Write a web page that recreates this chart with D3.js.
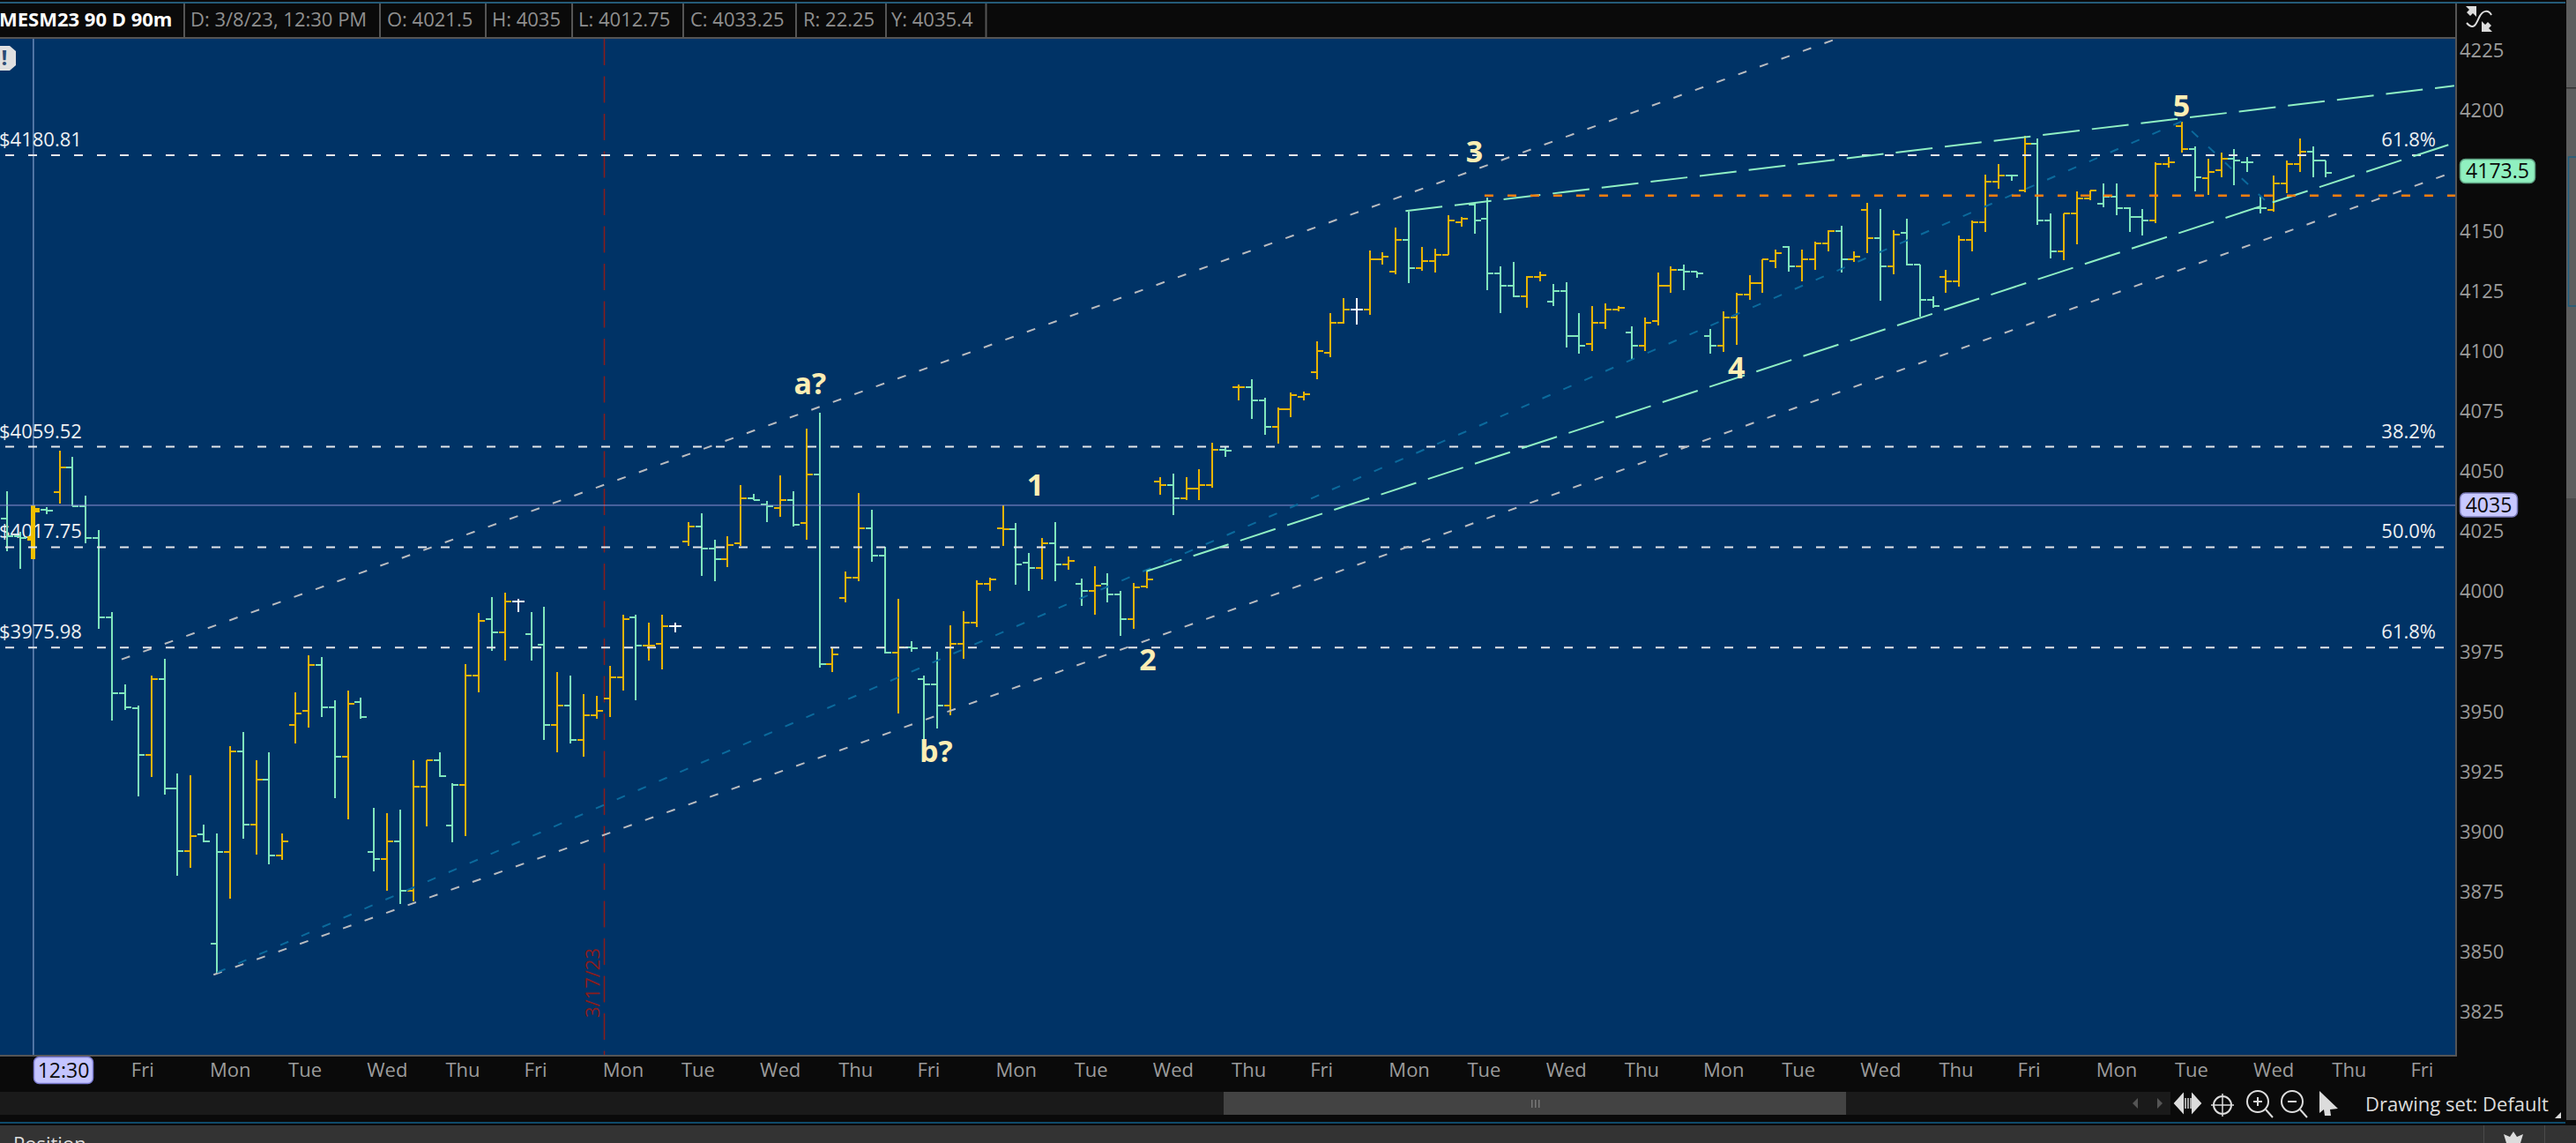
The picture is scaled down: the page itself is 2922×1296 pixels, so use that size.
<!DOCTYPE html>
<html>
<head>
<meta charset="utf-8">
<title>MESM23 90 D 90m</title>
<script src="https://cdn.jsdelivr.net/npm/d3@7"></script>
<style>
  html, body { margin: 0; padding: 0; background: #0a0a0a; overflow: hidden; }
  svg { display: block; font-family: "Open Sans", sans-serif; }
</style>
</head>
<body>
<div id="chart-area"></div>
<script>
// OHLC values, one per 90 minute bar
const opens = [
  4029.5, 4022.25, 4021.5, 4033.25, 4040.5, 4051, 4034.75, 4021.5, 3988.5, 3957,
  3950.75, 3931.25, 3963, 3917.25, 3891.5, 3898.25, 3852.75, 3891, 3932.75, 3902.5,
  3921, 3889.5, 3943.75, 3949.75, 3968.75, 3951, 3930.5, 3953.25, 3891, 3888,
  3895.25, 3874.75, 3918, 3929, 3902, 3918.75, 3964.25, 3987.75, 3982.5, 3995,
  3981.75, 3977.25, 3943.75, 3951.75, 3937.75, 3948, 3954.75, 3963.5, 3988.5, 3976.75,
  3977.5, 3984.75, 4020, 4026.5, 4017, 4012.75, 4019.25, 4038.25, 4035.5, 4034,
  4037.5, 4028, 4048, 3969.25, 3996.5, 4005.25, 4025.75, 4014.25, 3973.75, 3976,
  3963, 3960.5, 3951.75, 3977.5, 3986.25, 4002.5, 4025.5, 4025.25, 4011.25, 4009,
  4019.25, 4010.5, 4002.5, 3999.5, 4002.5, 3998, 3987.75, 4001.5, 4045, 4043.5,
  4038.25, 4042, 4043.5, 4058.25, 4084.5, 4084.5, 4078.75, 4067.75, 4075, 4080.25,
  4090.5, 4098.5, 4111, 4116.75, 4116.75, 4137.5, 4132.25, 4145.5, 4133.75, 4136.75,
  4139.5, 4152.75, 4160.25, 4154.25, 4131.5, 4126.5, 4122, 4130, 4119.75, 4124.25,
  4105.75, 4102.25, 4111, 4116.75, 4107.25, 4101.5, 4111.75, 4126.5, 4133, 4132.25,
  4105.75, 4101.5, 4113.25, 4122.75, 4127.75, 4136.75, 4142.5, 4134.5, 4137.5, 4144.25,
  4149.25, 4137.5, 4158, 4146.25, 4134.5, 4148.5, 4135.25, 4120.5, 4130, 4128.5,
  4145.5, 4152.75, 4169.75, 4172.5, 4166, 4185.5, 4153.5, 4141, 4156.5, 4163,
  4160.75, 4163.75, 4158.75, 4155, 4153.5, 4177, 4192.75, 4183.5, 4171.25, 4174.75,
  4179.25, 4177.75, 4158.75, 4158, 4169, 4177, 4182.25, 4178.75
];
const highs = [
  4041, 4024, 4035, 4034.25, 4057.75, 4055.5, 4039.25, 4024.75, 3990.75, 3960.75,
  3952, 3964.25, 3971.25, 3923.5, 3922.75, 3902.25, 3898.5, 3935, 3941, 3929.25,
  3932.25, 3898.5, 3957.25, 3972.75, 3972, 3954.25, 3958, 3955, 3909.5, 3907.25,
  3908.75, 3929.25, 3929, 3932.25, 3919.75, 3969, 3990.25, 3997, 3999, 3996.25,
  3990.75, 3993, 3966, 3964.5, 3956.5, 3956, 3968.25, 3989.5, 3989.5, 3986.5,
  3989.5, 3986.5, 4028.25, 4032, 4021, 4022.5, 4043.5, 4040, 4037, 4047.5,
  4041, 4067.25, 4073.75, 3976.25, 4007.75, 4040.25, 4033.5, 4018, 3996.25, 3978.5,
  3964.5, 3974.25, 3985.25, 3991, 4004, 4005.25, 4035, 4027.75, 4015.25, 4021.75,
  4028.25, 4013.75, 4004.75, 4010, 4007, 3999.5, 4002.75, 4007.75, 4046.75, 4048.25,
  4046.75, 4050.25, 4061.25, 4059.5, 4085.5, 4087.75, 4079.75, 4075.75, 4082, 4082.5,
  4103.25, 4115, 4121.5, 4121.5, 4141.25, 4140.5, 4150.75, 4157.25, 4142.75, 4142,
  4155.75, 4155.25, 4161, 4163.25, 4134.75, 4136.25, 4130.5, 4132.5, 4127.25, 4128,
  4115, 4118, 4119.25, 4118, 4109.75, 4113.25, 4132, 4134.75, 4135.5, 4132.5,
  4108.5, 4115.75, 4123.75, 4131, 4137.5, 4141.5, 4143, 4141.5, 4144.75, 4149.5,
  4151.5, 4140.75, 4161, 4158.25, 4149.5, 4154.5, 4135.5, 4122.25, 4133.25, 4147.25,
  4153.75, 4172.75, 4177.25, 4172.75, 4189, 4187.75, 4156.75, 4156.75, 4165.75, 4166.25,
  4169.25, 4169.25, 4159, 4158.25, 4177.75, 4180.25, 4194.75, 4184.5, 4179.25, 4181.75,
  4183.25, 4180, 4163.5, 4172.25, 4178.75, 4187.75, 4184.5, 4178.75
];
const lows = [
  4016, 4008.75, 4012.75, 4031.5, 4036, 4034.75, 4019.25, 3983.75, 3945.5, 3950,
  3914, 3922.25, 3914.75, 3881, 3884.5, 3895, 3840.25, 3871.5, 3896.5, 3889.75,
  3886, 3887.5, 3936, 3942.75, 3947, 3913.25, 3904.5, 3946.25, 3883, 3875,
  3869.25, 3870.5, 3901.5, 3922.25, 3895, 3897.75, 3957.25, 3974.75, 3970.5, 3990.75,
  3970.5, 3937.5, 3932.25, 3936, 3930.75, 3946.25, 3947, 3958, 3954.25, 3970.5,
  3966.75, 3982.25, 4018.25, 4005.75, 4003.5, 4009.5, 4018.25, 4037.25, 4028.25, 4030.5,
  4026.25, 4021, 3967.5, 3966, 3994.75, 4003.5, 4011.5, 3973.5, 3948.5, 3974.25,
  3937.5, 3942.5, 3947.75, 3971.25, 3984.5, 3999.75, 4018.25, 4002, 3999.75, 4004.25,
  4003.5, 4008.25, 3993.25, 3989.5, 3994.75, 3980.75, 3983.75, 4000.5, 4039.5, 4031.25,
  4037.25, 4037.25, 4042.5, 4055.5, 4079, 4071, 4064.5, 4060.75, 4071.75, 4079,
  4087.75, 4096.75, 4110.75, 4110.5, 4114.25, 4135.5, 4131.25, 4127.5, 4132.75, 4132,
  4139.25, 4151, 4148, 4124.5, 4115.25, 4121.75, 4117.25, 4128.25, 4118, 4101,
  4098.25, 4099.5, 4108.5, 4115.75, 4096, 4099.5, 4110, 4123.75, 4124.5, 4129.75,
  4098.25, 4099, 4101.75, 4120.5, 4123.75, 4134, 4132.5, 4128.25, 4133.25, 4140.75,
  4132, 4136.5, 4140, 4120.25, 4131.25, 4135, 4113.5, 4117.5, 4123.75, 4126,
  4140.75, 4148.75, 4167, 4170, 4165.25, 4151.75, 4137.75, 4137, 4143.75, 4162,
  4159.25, 4156, 4148.75, 4147.25, 4152.5, 4175.75, 4181.75, 4165.75, 4164.25, 4171.5,
  4168.5, 4173.75, 4156.75, 4157.5, 4165, 4173.75, 4171.5, 4171.5
];
const closes = [
  4022.25, 4021.5, 4033.25, 4033, 4051, 4034.75, 4021.5, 3988.5, 3957, 3951,
  3931.25, 3963, 3917.25, 3891.5, 3897.5, 3895.25, 3891, 3932.75, 3902.5, 3921,
  3889.5, 3895.25, 3948.75, 3968.75, 3951, 3930.5, 3952.5, 3947.25, 3888, 3895.25,
  3874.75, 3918, 3929, 3922.5, 3918.75, 3964.25, 3987, 3982.5, 3995, 3995,
  3976, 3943.75, 3951.75, 3937.75, 3948, 3949.5, 3963.5, 3987.75, 3976.75, 3977,
  3984.75, 3984.75, 4026.5, 4017, 4012.75, 4018.5, 4038.25, 4037.5, 4034.75, 4037.5,
  4027.25, 4048, 3969.25, 3973, 4005.25, 4025.75, 4014.25, 3973.75, 3976, 3975.75,
  3960.5, 3951.75, 3977.5, 3986.25, 4002.5, 4004.5, 4025.25, 4010.5, 4009, 4019.25,
  4010.5, 4012, 3999.5, 4001.75, 3998, 3987.75, 4001, 4004.5, 4043.5, 4038.25,
  4042, 4043.5, 4058.25, 4058, 4084.5, 4078.75, 4067.75, 4075, 4081, 4081.5,
  4099.25, 4111, 4116.75, 4116.75, 4137.5, 4138.75, 4145.5, 4133.75, 4136.75, 4139.5,
  4153.5, 4154.25, 4153.5, 4131.5, 4126.5, 4122, 4130, 4130.75, 4124.25, 4105.75,
  4101.5, 4111, 4116.75, 4117.5, 4101.5, 4111, 4126.5, 4133, 4132.25, 4131.5,
  4101.5, 4113.25, 4122.75, 4127.75, 4137.5, 4140.25, 4134.5, 4137.5, 4144.25, 4149.25,
  4137.5, 4138.75, 4146.25, 4134.5, 4147.75, 4135.25, 4120.5, 4118.25, 4128.5, 4145.5,
  4152.75, 4169.75, 4172.5, 4172.25, 4185.75, 4153.5, 4141, 4156.5, 4163, 4166,
  4163.75, 4158.75, 4155, 4153.5, 4177, 4177.75, 4183.5, 4171.75, 4174, 4179.25,
  4178.75, 4177.75, 4158.75, 4169, 4177, 4182.25, 4178.75, 4173.5
];

// weekday labels and the bar each of them starts on
const dayLabels = ["Fri","Mon","Tue","Wed","Thu","Fri","Mon","Tue","Wed","Thu","Fri","Mon","Tue","Wed","Thu",
  "Fri","Mon","Tue","Wed","Thu","Mon","Tue","Wed","Thu","Fri","Mon","Tue","Wed","Thu","Fri"];
const dayBars = [10,16,22,28,34,40,46,52,58,64,70,76,82,88,94,100,106,112,118,124,130,136,142,148,154,160,166,172,178,184];

// 4175 sits behind the last price label in the reference, so it is left out
const priceTicks = [3825,3850,3875,3900,3925,3950,3975,4000,4025,4050,4075,4100,4125,4150,4200,4225];

// retracement levels
const fibPrices = [4180.81, 4059.52, 4017.75, 3975.98];
const fibLeft = ["$4180.81", "$4059.52", "$4017.75", "$3975.98"];
const fibRight = ["61.8%", "38.2%", "50.0%", "61.8%"];

// drawings as [bar, price] points
const upperChannel = [[8.73, 3971.07], [139.65, 4229.24]];
const lowerChannel = [[15.75, 3839.87], [186.04, 4172.48]];
const waveLine = [[16.03, 3840.82], [165.97, 4194.86], [172.91, 4159.16]];
const wedgeLow = [[86.96, 4007.75], [186.39, 4185.21]];
const wedgeHigh = [[106.74, 4157.59], [186.79, 4209.68]];
const orangeLevel = [[112.77, 4164], [186.86, 4164]];

const waveNames = ["a?", "1", "2", "b?", "3", "4", "5"];
const waveBars = [61.29, 78.49, 87.06, 70.91, 111.99, 132, 165.97];
const wavePrices = [4085.79, 4043.6, 3970.95, 3932.8, 4182.39, 4092.5, 4201.36];

const headerCells = ["D: 3/8/23, 12:30 PM", "O: 4021.5", "H: 4035", "L: 4012.75", "C: 4033.25", "R: 22.25", "Y: 4035.4"];
const selectedBar = 2;
const cursorPrice = 4035;
const lastPrice = 4173.5;

const width = 2922;
const height = 1296;
const plot = { left: 0, top: 44, right: 2785, bottom: 1196 };

const svg = d3.select("#chart-area")
  .append("svg")
  .attr("width", width)
  .attr("height", height);

svg.append("rect").attr("width", width).attr("height", height).attr("fill", "#0a0a0a");

// Escalas
const x = d3.scaleLinear().domain([0, 177]).range([8.2, 2638.4]);
const y = d3.scaleLinear().domain([4180.81, 3975.98]).range([176, 734.3]);
const trendLine = d3.line().x(d => x(d[0])).y(d => y(d[1]));

const UP = "#e8b400", DOWN = "#7fe6bd", SAME = "#ffffff";
const GOLD_BAR = "#f0c000";

svg.append("clipPath").attr("id", "plot-clip")
  .append("rect")
  .attr("x", plot.left).attr("y", plot.top)
  .attr("width", plot.right - plot.left).attr("height", plot.bottom - plot.top);

// Fondo del panel
svg.append("rect")
  .attr("x", plot.left).attr("y", plot.top)
  .attr("width", plot.right - plot.left).attr("height", plot.bottom - plot.top)
  .attr("fill", "#003366");

const g = svg.append("g").attr("clip-path", "url(#plot-clip)");

// Crosshair
g.append("line").attr("x1", x(selectedBar)).attr("x2", x(selectedBar))
  .attr("y1", plot.top).attr("y2", plot.bottom)
  .attr("stroke", "#9fb6e2").attr("stroke-width", 1);

// Vertical marker 3/17/23
const markerX = Math.round(x(45.53)) + 0.5;
g.append("line").attr("x1", markerX).attr("x2", markerX)
  .attr("y1", plot.top).attr("y2", plot.bottom)
  .attr("stroke", "#8a1c1c").attr("stroke-width", 1.5).attr("stroke-dasharray", "30 12.5");
g.append("text")
  .attr("transform", `translate(${markerX - 6},1154) rotate(-90)`)
  .attr("font-size", 22).attr("fill", "#8a1c1c")
  .text("3/17/23");

// Fib labels go under the bars
fibPrices.forEach((p, k) => {
  g.append("text").attr("x", -1).attr("y", y(p) - 10)
    .attr("font-size", 22).attr("fill", "#eef0f2").text(fibLeft[k]);
  g.append("text").attr("x", 2763).attr("y", y(p) - 10).attr("text-anchor", "end")
    .attr("font-size", 22).attr("fill", "#eef0f2").text(fibRight[k]);
});

// Barras
const bars = d3.range(opens.length).map(i => ({
  i, o: opens[i], h: highs[i], l: lows[i], c: closes[i],
  color: i === 0 || closes[i] < closes[i - 1] ? DOWN : closes[i] > closes[i - 1] ? UP : SAME
}));
const barG = g.append("g").attr("shape-rendering", "crispEdges");
const bar = barG.selectAll("g").data(bars).enter().append("g")
  .attr("stroke", d => d.i === selectedBar ? GOLD_BAR : d.color)
  .attr("stroke-width", d => d.i === selectedBar ? 5 : 2);
bar.append("line").attr("x1", d => x(d.i)).attr("x2", d => x(d.i)).attr("y1", d => y(d.h)).attr("y2", d => y(d.l));
bar.append("line").attr("x1", d => x(d.i) - 7).attr("x2", d => x(d.i)).attr("y1", d => y(d.o)).attr("y2", d => y(d.o));
bar.append("line").attr("x1", d => x(d.i)).attr("x2", d => x(d.i) + 7).attr("y1", d => y(d.c)).attr("y2", d => y(d.c));

// Cursor price line
g.append("line").attr("x1", plot.left).attr("x2", plot.right)
  .attr("y1", y(cursorPrice) - 0.5).attr("y2", y(cursorPrice) - 0.5)
  .attr("stroke", "#8f90d4").attr("stroke-width", 1);

// Fib levels
fibPrices.forEach(p => {
  g.append("line").attr("x1", 6).attr("x2", 2773).attr("y1", y(p)).attr("y2", y(p))
    .attr("stroke", "#e4e6ea").attr("stroke-width", 2).attr("stroke-dasharray", "10 16");
});

// Trend lines
function drawTrend(points, color, w, dash) {
  g.append("path").attr("d", trendLine(points)).attr("fill", "none")
    .attr("stroke", color).attr("stroke-width", w).attr("stroke-dasharray", dash);
}
drawTrend(upperChannel, "#b9bcc0", 2, "10 16");
drawTrend(lowerChannel, "#b9bcc0", 2, "10 16");
drawTrend(waveLine, "#0b6a9c", 2, "10 16");
drawTrend(wedgeLow, "#8ff0c4", 2, "42 14");
drawTrend(wedgeHigh, "#8ff0c4", 2, "42 14");
drawTrend(orangeLevel, "#ff7f0f", 2.5, "10 16");

// Wave labels
g.selectAll(".wave").data(waveNames).enter().append("text")
  .attr("class", "wave")
  .attr("x", (d, k) => x(waveBars[k]))
  .attr("y", (d, k) => y(wavePrices[k]))
  .attr("dy", "0.35em")
  .attr("text-anchor", "middle")
  .attr("font-size", 34).attr("font-weight", 700)
  .attr("fill", "#fdeeb4")
  .text(d => d);

// Warning badge
g.append("path").attr("d", "M-6,52 H11 L18,58 V74 L11,80 H-6 Z").attr("fill", "#e0e0e0");
g.append("text").attr("x", 5).attr("y", 74).attr("text-anchor", "middle")
  .attr("font-size", 24).attr("font-weight", 700).attr("fill", "#2a4a74").text("!");

// Ejes
const rightAxis = d3.axisRight(y).tickValues(priceTicks).tickSize(0).tickPadding(0).tickFormat(d3.format("d"));
const rightG = svg.append("g").attr("transform", `translate(2790,2)`).call(rightAxis);
rightG.select(".domain").remove();
rightG.selectAll("text").attr("font-size", 22).attr("font-family", "Open Sans").attr("fill", "#9c9c9c");

const bottomAxis = d3.axisBottom(x).tickValues(dayBars).tickSize(0).tickPadding(0)
  .tickFormat((d, k) => dayLabels[k]);
const bottomG = svg.append("g").attr("transform", "translate(-8.5,1205)").call(bottomAxis);
bottomG.select(".domain").remove();
bottomG.selectAll("text").attr("text-anchor", "start").attr("font-size", 22)
  .attr("font-family", "Open Sans").attr("fill", "#9c9c9c");

// Plot borders
svg.append("rect").attr("x", 0).attr("y", 42).attr("width", plot.right).attr("height", 2).attr("fill", "#555");
svg.append("rect").attr("x", 0).attr("y", plot.bottom).attr("width", plot.right + 2).attr("height", 2).attr("fill", "#555");
svg.append("rect").attr("x", plot.right).attr("y", 2).attr("width", 2).attr("height", plot.bottom).attr("fill", "#555");

// Barra superior
svg.append("rect").attr("x", 0).attr("y", 2).attr("width", 2910).attr("height", 2).attr("fill", "#245a78");
const headerY = 30;
svg.append("text").attr("x", -1).attr("y", headerY)
  .attr("font-size", 22).attr("font-weight", 700).attr("fill", "#ffffff")
  .text("MESM23 90 D 90m");
const cellStarts = [216, 439, 558, 656, 783, 911, 1011];
const cellSeps = [209, 431, 551, 649, 775, 903, 1005, 1118.5];
cellSeps.forEach(s => svg.append("rect").attr("x", s - 1).attr("y", 4).attr("width", 2).attr("height", 38).attr("fill", "#555"));
headerCells.forEach((t, k) => svg.append("text").attr("x", cellStarts[k]).attr("y", headerY)
  .attr("font-size", 22).attr("fill", "#8f8f8f").text(t));

// Etiquetas de precio
function pricePill(px, py, w, h, fill, edge, label) {
  svg.append("rect").attr("x", px).attr("y", py).attr("width", w).attr("height", h).attr("rx", 6)
    .attr("fill", fill).attr("stroke", edge).attr("stroke-width", 1.5);
  svg.append("text").attr("x", px + w / 2).attr("y", py + h / 2).attr("dy", "0.36em")
    .attr("text-anchor", "middle").attr("font-size", 23).attr("fill", "#0a0a0a").text(label);
}
pricePill(2790.5, y(lastPrice) - 15.5, 85, 27, "#90f0c0", "#5d9f80", d3.format(".1f")(lastPrice));
pricePill(2790.5, y(cursorPrice) - 14.5, 65, 27, "#c8c8ff", "#7a7ab8", String(cursorPrice));
pricePill(38.5, 1198.5, 67, 30, "#c4c4ff", "#7a7ad0", "12:30");

// Right side panel
svg.append("rect").attr("x", 2911).attr("y", 0).attr("width", 11).attr("height", 565).attr("fill", "#5e5e5e");
svg.append("rect").attr("x", 2911).attr("y", 565).attr("width", 11).attr("height", 705).attr("fill", "#4a4a4a");
svg.append("rect").attr("x", 2911).attr("y", 99).attr("width", 11).attr("height", 1.5).attr("fill", "#333");
svg.append("rect").attr("x", 2913.5).attr("y", 178).attr("width", 12).attr("height", 169)
  .attr("fill", "none").attr("stroke", "#1f5f80").attr("stroke-width", 1.5);

// Scrollbar
svg.append("rect").attr("x", 0).attr("y", 1238).attr("width", 2462).attr("height", 26).attr("fill", "#1a1a1a");
svg.append("rect").attr("x", 1388).attr("y", 1238).attr("width", 706).attr("height", 26).attr("fill", "#434343");
[-4, 0, 4].forEach(d => svg.append("rect").attr("x", 1741 + d).attr("y", 1247).attr("width", 1.5).attr("height", 9).attr("fill", "#777"));
svg.append("path").attr("d", "M2425,1245 L2419,1251 L2425,1257 Z").attr("fill", "#555");
svg.append("path").attr("d", "M2447,1245 L2453,1251 L2447,1257 Z").attr("fill", "#555");

// Toolbar icons
const icon = svg.append("g").attr("fill", "none").attr("stroke", "#dcdcdc").attr("stroke-width", 2);
icon.append("path").attr("d", "M2476,1241 L2467,1251 L2476,1261 Z M2487,1241 L2496,1251 L2487,1261 Z").attr("fill", "#dcdcdc");
icon.append("path").attr("d", "M2479,1245 V1257 M2482,1245 V1257 M2485,1245 V1257").attr("stroke-width", 1.5);
icon.append("circle").attr("cx", 2521).attr("cy", 1253).attr("r", 10);
icon.append("path").attr("d", "M2521,1240 V1266 M2508,1253 H2534").attr("stroke-width", 1.5);
icon.append("circle").attr("cx", 2561).attr("cy", 1249).attr("r", 12);
icon.append("path").attr("d", "M2570,1258 L2578,1267 M2556,1249 H2566 M2561,1244 V1254");
icon.append("circle").attr("cx", 2600).attr("cy", 1249).attr("r", 12);
icon.append("path").attr("d", "M2609,1258 L2617,1267 M2595,1249 H2605");
svg.append("path").attr("d", "M2631,1237 L2652,1257 L2643,1258 L2644,1265 L2637,1265 L2636,1258 L2631,1262 Z").attr("fill", "#dcdcdc");
svg.append("text").attr("x", 2683).attr("y", 1260).attr("font-size", 22).attr("fill", "#dcdcdc").text("Drawing set: Default");
svg.append("path").attr("d", "M2905,1261 V1268 H2898 Z").attr("fill", "#dcdcdc");

// Top right expand icon
const expand = svg.append("g").attr("fill", "#dcdcdc").attr("stroke", "none");
expand.append("path").attr("d", "M2797,7 H2809 V19 L2805,15 L2802,18 L2798,14 L2801,11 Z");
expand.append("path").attr("d", "M2827,36 H2815 V24 L2819,28 L2822,25 L2826,29 L2823,32 Z");
svg.append("path").attr("d", "M2798,26 C2806,35 2809,27 2812,20 C2816,11 2823,11 2826,17")
  .attr("fill", "none").attr("stroke", "#dcdcdc").attr("stroke-width", 2);

// Panel inferior
svg.append("rect").attr("x", 0).attr("y", 1272).attr("width", 2910).attr("height", 2).attr("fill", "#0f4a6a");
svg.append("rect").attr("x", 0).attr("y", 1276).attr("width", width).attr("height", 20).attr("fill", "#333333");
svg.append("text").attr("x", 15).attr("y", 1305).attr("font-size", 22).attr("fill", "#dcdcdc").text("Position");
svg.append("rect").attr("x", 2817).attr("y", 1276).attr("width", 1).attr("height", 20).attr("fill", "#4a4a4a");
svg.append("rect").attr("x", 2886).attr("y", 1276).attr("width", 1).attr("height", 20).attr("fill", "#4a4a4a");
svg.append("path").attr("d", "M2851,1283 L2855,1289 L2862,1286 L2859,1296 L2843,1296 L2840,1286 L2847,1289 Z").attr("fill", "#dcdcdc");
</script>
</body>
</html>
